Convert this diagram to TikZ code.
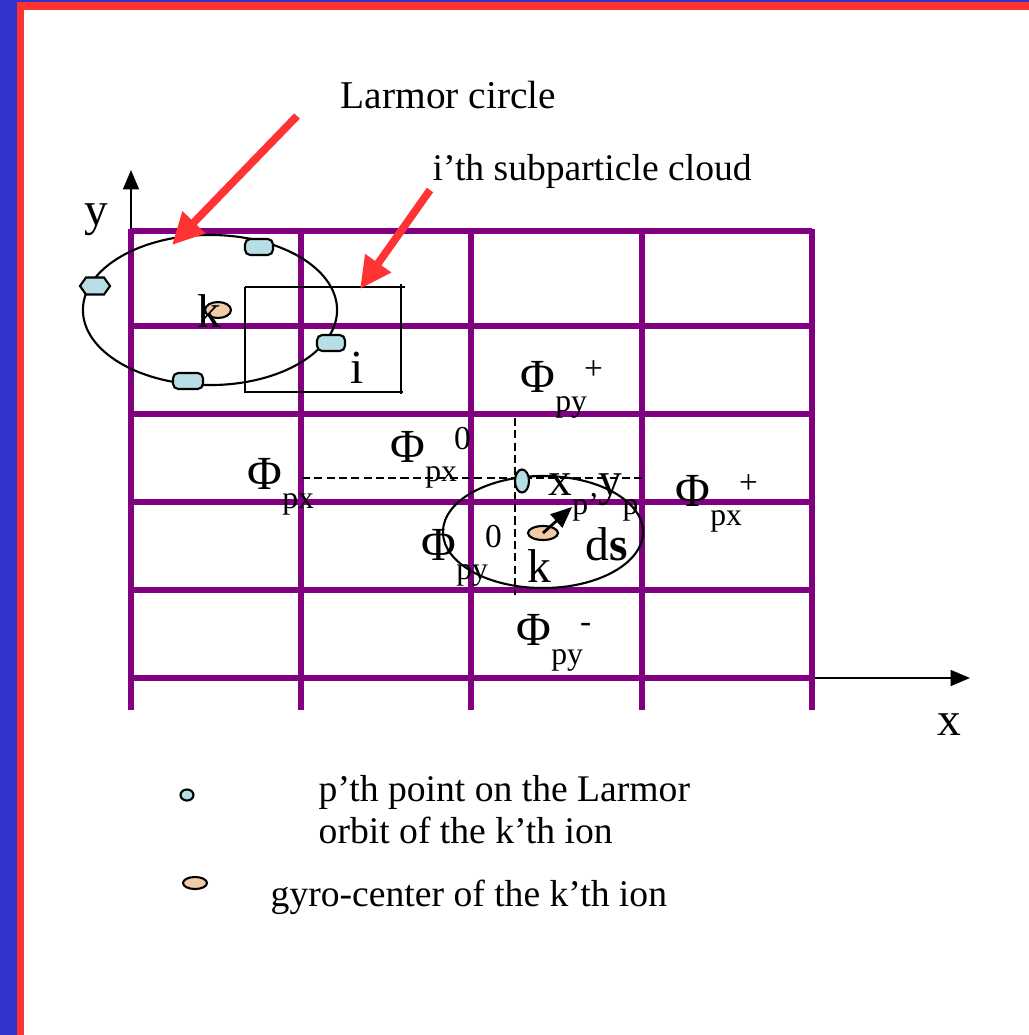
\documentclass[tikz,border=0pt]{standalone}
\usepackage{fontspec}
\setmainfont{Liberation Serif}
\usepackage{tikz}
\usetikzlibrary{shapes.geometric, arrows.meta, positioning}
\definecolor{slideblue}{RGB}{51,51,204}
\definecolor{slidered}{RGB}{255,51,51}
\definecolor{gridpurple}{RGB}{128,0,128}
\definecolor{ptcyan}{RGB}{183,222,228}
\definecolor{gyropeach}{RGB}{242,204,166}
\newcommand{\subtxt}[1]{\raisebox{-5.5pt}{\fontsize{9}{10}\selectfont #1}}
\newcommand{\suptxt}[1]{\kern-0.8pt\raisebox{3.5pt}{\fontsize{9.5}{10}\selectfont #1}}
\tikzset{
  gridline/.style={draw=gridpurple, line width=1.5pt},
  axis/.style={-{Triangle[length=5.5pt, width=4.5pt]}, line width=0.6pt, color=black},
  callout/.style={-{Triangle[length=9pt, width=8.5pt]}, line width=2.2pt, color=slidered},
  dsarrow/.style={-{Triangle[length=6pt, width=5pt]}, line width=0.8pt, color=black},
  guide/.style={line width=0.6pt, dash pattern=on 2.3pt off 1.2pt},
  orbit/.style={ellipse, draw=black, line width=0.6pt, inner sep=0pt},
  orbitpt/.style={rectangle, rounded corners=1.5pt, draw=black, fill=ptcyan,
    line width=0.6pt, inner sep=0pt, minimum width=0.28cm, minimum height=0.16cm},
  ptdot/.style={ellipse, draw=black, fill=ptcyan, line width=0.6pt, inner sep=0pt},
  ptfill/.style={draw=black, fill=ptcyan, line width=0.6pt},
  gyro/.style={ellipse, draw=black, fill=gyropeach, line width=0.6pt, inner sep=0pt},
  cloudbox/.style={draw=black, line width=0.6pt},
  bigtxt/.style={font=\fontsize{13.5}{15}\selectfont, inner sep=0pt, anchor=base west},
  plaintxt/.style={font=\fontsize{10.7}{13}\selectfont, inner sep=0pt, anchor=base west}
}

\begin{document}
\begin{tikzpicture}[x=0.01cm, y=-0.01cm]
  \useasboundingbox (0,0) rectangle (1029,1035);
  % Slide frame
  \fill[slideblue] (0,0) rectangle (1029,1035);
  \fill[slidered] (17,2) rectangle (1029,1035);
  \fill[white] (24,10) rectangle (1029,1035);

  % Axes
  \coordinate (origin) at (131,678);
  \coordinate (ytip) at (131,170);
  \coordinate (xtip) at (970,678);
  \draw[axis] (origin) -- (ytip);
  \draw[axis] (origin) -- (xtip);
  \node[bigtxt] (ylbl) at (84,225) {y};
  \node[bigtxt] (xlbl) at (937,735) {x};

  % Grid cells
  \foreach \x in {131,301,471,642,812}
    \draw[gridline] (\x,229) -- (\x,710);
  \foreach \y in {231,326,414,502,590,678}
    \draw[gridline] (131,\y) -- (812,\y);

  % Dashed guides through the orbit point
  \coordinate (hguideL) at (302,478);
  \coordinate (hguideR) at (643,478);
  \coordinate (vguideT) at (515,418);
  \coordinate (vguideB) at (515,595);
  \draw[guide] (hguideL) -- (hguideR);
  \draw[guide] (vguideT) -- (vguideB);

  % Larmor circle of ion k
  \node[orbit, minimum width=2.54cm, minimum height=1.5cm] (larmor) at (210,310) {};
  \node[gyro, minimum width=0.26cm, minimum height=0.16cm] (gyrok) at (218,310) {};
  \node[bigtxt] (klbl) at (197,327) {k};
  \node[orbitpt] (pt1) at (259,247) {};
  \node[orbitpt] (pt2) at (331,343) {};
  \node[orbitpt, minimum width=0.30cm] (pt3) at (188,381) {};
  \coordinate (pt4) at (95,286);
  \draw[ptfill] (pt4) ++(-15,0) -- ++(6,-8.5) -- ++(18,0) -- ++(6,8.5)
    -- ++(-6,8.5) -- ++(-18,0) -- cycle;

  % Subparticle cloud
  \coordinate (cloudNW) at (245,287);
  \coordinate (cloudSE) at (401,392);
  \draw[cloudbox] (cloudNW) -- ++(160,0);
  \draw[cloudbox] (cloudNW) -- ++(0,106);
  \draw[cloudbox] (cloudSE) ++(0,-108) -- ++(0,110);
  \draw[cloudbox] (cloudNW) ++(0,105) -- ++(158,0);
  \node[bigtxt] (ilbl) at (350,383) {i};

  % Orbit through (x_p, y_p)
  \node[orbit, minimum width=2.0cm, minimum height=1.12cm] (orbitk) at (543,532) {};
  \node[ptdot, minimum width=0.14cm, minimum height=0.23cm] (ptp) at (522,481) {};
  \node[gyro, minimum width=0.30cm, minimum height=0.14cm] (gyro2) at (543,533) {};
  \coordinate (dstip) at (572,507);
  \draw[dsarrow] (gyro2.center) -- (dstip);
  \node[bigtxt] (k2lbl) at (527,582) {k};
  \node[bigtxt] (dslbl) at (585,560) {d\textbf{s}};
  \node[bigtxt] (xplbl) at (548,495) {x\subtxt{p’}y\subtxt{p}};

  % Potentials
  \node[bigtxt] (phipyp) at (520,392) {Φ\subtxt{py}\suptxt{+}};
  \node[bigtxt] (phipx0) at (390,462) {Φ\subtxt{px}\suptxt{0}};
  \node[bigtxt] (phipx) at (247,489) {Φ\subtxt{px}};
  \node[bigtxt] (phipxp) at (675,506) {Φ\subtxt{px}\suptxt{+}};
  \node[bigtxt] (phipy0) at (421,560) {Φ\subtxt{py}\suptxt{0}};
  \node[bigtxt] (phipym) at (516,645) {Φ\subtxt{py}\suptxt{-}};

  % Callouts
  \node[plaintxt, font=\fontsize{11.2}{13}\selectfont] (larmortxt) at (340,108) {Larmor circle};
  \node[plaintxt] (cloudtxt) at (432,180) {i’th subparticle cloud};
  \coordinate (larmorfrom) at (297,116);
  \coordinate (larmorto) at (172,245);
  \coordinate (cloudfrom) at (430,190);
  \coordinate (cloudto) at (360,289);
  \draw[callout] (larmorfrom) -- (larmorto);
  \draw[callout] (cloudfrom) -- (cloudto);

  % Legend
  \node[ptdot, minimum width=0.13cm, minimum height=0.11cm] (keypt) at (187,795) {};
  \node[gyro, minimum width=0.24cm, minimum height=0.12cm] (keygyro) at (195,883) {};
  \node[plaintxt] (keypttxt) at (318,801) {p’th point on the Larmor};
  \node[plaintxt] (keypttxt2) at (318,843) {orbit of the k’th ion};
  \node[plaintxt] (keygyrotxt) at (270,906) {gyro-center of the k’th ion};
\end{tikzpicture}
\end{document}
